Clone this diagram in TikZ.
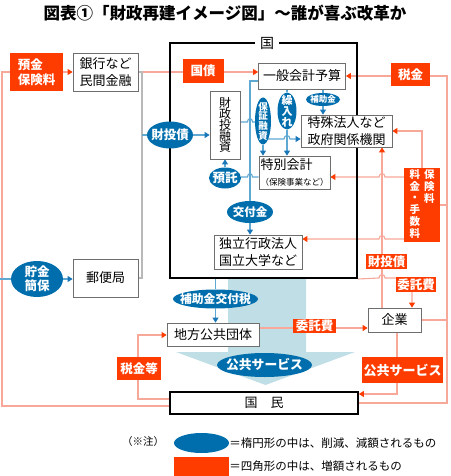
\documentclass[tikz,border=0pt]{standalone}
\usepackage{fontspec}
\setmainfont{Noto Sans CJK JP}
\usetikzlibrary{shapes.geometric,arrows.meta}
\definecolor{zored}{RGB}{255,60,0}
\definecolor{zoblue}{RGB}{0,110,172}
\definecolor{pinkline}{RGB}{248,168,152}
\definecolor{blueline}{RGB}{95,168,210}
\definecolor{bluetip}{RGB}{25,118,185}
\definecolor{bandblue}{RGB}{192,222,230}
\definecolor{boxgrey}{RGB}{110,110,110}
\definecolor{busgrey}{RGB}{185,185,185}
\newcommand{\fsz}[2]{\fontsize{#1}{#2}\selectfont}
\pgfdeclarelayer{band}
\pgfdeclarelayer{lines}
\pgfsetlayers{band,lines,main}

\begin{document}
\begin{tikzpicture}
	[x=1pt,y=-1pt,
	box/.style={draw=boxgrey,line width=0.8pt,fill=white,inner sep=0pt,align=center,font=\fsz{13}{16.5}},
	redbox/.style={fill=zored,text=white,inner sep=0pt,align=center,font=\bfseries\fsz{12.5}{15}},
	oval/.style={ellipse,fill=zoblue,inner sep=0pt},
	ovtext/.style={text=white,inner sep=0pt,align=center,font=\bfseries\fsz{12.5}{14}},
	pinkln/.style={draw=pinkline,line width=1.1pt},
	pinkar/.style={pinkln,-{Triangle[length=5pt,width=6pt,color=zored]}},
	blueln/.style={draw=blueline,line width=1.1pt},
	bluear/.style={blueln,-{Triangle[length=5pt,width=6pt,color=bluetip]}},
	greyln/.style={draw=busgrey,line width=1.4pt}]
	\useasboundingbox (0,0) rectangle (450,476);

	\node[font=\bfseries\fsz{16.5}{18}] (title) at (225,13) {図表①「財政再建イメージ図」〜誰が喜ぶ改革か};

	% 国
	\node[draw=black,line width=2pt,minimum width=187,minimum height=235,inner sep=0pt] (kuni) at (263.5,160.5) {};
	\node[fill=white,inner xsep=5pt,inner ysep=1pt,font=\fsz{14}{14}] (kunimei) at (267,43) {国};

	% left
	\node[redbox,minimum width=53,minimum height=38,align=left] (yokin) at (36.5,72) {預金\\保険料};
	\node[box,minimum width=65,minimum height=38] (ginko) at (105.5,72) {銀行など\\民間金融};
	\node[oval,minimum width=52,minimum height=36,label={[ovtext]center:{貯金\\簡保}}] (chokin) at (37,279) {};
	\node[box,minimum width=65,minimum height=38] (yubin) at (105.5,278) {郵便局};
	\coordinate (lft) at (0,279);

	% inside
	\node[redbox,minimum width=41,minimum height=24] (kokusai) at (203,71) {国債};
	\node[box,minimum width=87,minimum height=26] (ippan) at (302,76) {一般会計予算};
	\node[box,minimum width=30,minimum height=68,font=\fsz{12}{11.2}] (zaisei) at (225,125) {財\\政\\投\\融\\資};
	\node[oval,minimum width=46,minimum height=27,label={[ovtext]center:財投債}] (zaitosai) at (170,135) {};
	\node[oval,minimum width=32,minimum height=21,label={[ovtext]center:預託}] (yotaku) at (225,178) {};
	\node[oval,minimum width=16,minimum height=47,label={[ovtext,font=\bfseries\fsz{9.5}{9.7}]center:{保\\証\\融\\資}}] (hosho) at (263,121) {};
	\node[oval,minimum width=19,minimum height=37,label={[ovtext,font=\bfseries\fsz{11}{11}]center:{繰\\入\\れ}}] (kurire) at (287,111) {};
	\node[oval,minimum width=34,minimum height=13,label={[ovtext,font=\bfseries\fsz{8.5}{9}]center:補助金}] (hojo) at (323,99.5) {};
	\node[box,minimum width=91,minimum height=32] (tokushu) at (346.5,131) {特殊法人など\\政府関係機関};
	\node[box,minimum width=71,minimum height=33,align=left] (tokubetsu) at (294.5,172.5) {特別会計\\{\fsz{8.5}{10}（保険事業など）}};
	\node[oval,minimum width=46,minimum height=22,label={[ovtext,font=\bfseries\fsz{11.5}{12}]center:交付金}] (kofukin) at (250,212) {};
	\node[box,minimum width=88,minimum height=34] (dokuritsu) at (258,252) {独立行政法人\\国立大学など};

	% right
	\node[redbox,minimum width=39,minimum height=23] (zeikin) at (410.5,75) {税金};
	\node[redbox,minimum width=36,minimum height=74,font=\bfseries\fsz{10.5}{10.3}] (hoken) at (422,205)
		{\begin{tabular}[t]{@{}c@{}}料\\金\\・\\手\\数\\料\end{tabular}\hspace{4pt}\begin{tabular}[t]{@{}c@{}}保\\険\\料\end{tabular}};
	\node[redbox,minimum width=41,minimum height=15] (zaitosai2) at (386.5,261.5) {財投債};
	\node[redbox,minimum width=40,minimum height=15] (itaku1) at (416,284.5) {委託費};
	\node[box,minimum width=53,minimum height=24] (kigyo) at (394.5,320) {企業};

	% bottom
	\node[oval,minimum width=85,minimum height=19,label={[ovtext,font=\bfseries\fsz{11.8}{12}]center:補助金交付税}] (hojokofu) at (215.5,299) {};
	\node[box,minimum width=92,minimum height=23] (chiho) at (213,334.5) {地方公共団体};
	\node[redbox,minimum width=43,minimum height=14] (itaku2) at (314.5,326) {委託費};
	\node[redbox,minimum width=44,minimum height=23] (zeikinto) at (139,368.5) {税金等};
	\node[oval,minimum width=95,minimum height=24,label={[ovtext,font=\bfseries\fsz{12.8}{13}]center:公共サービス}] (kokyo) at (264.5,365) {};
	\node[redbox,minimum width=81,minimum height=26,font=\bfseries\fsz{13}{15}] (kokyo2) at (402.5,370) {公共サービス};
	\node[box,draw=black,line width=1.8pt,minimum width=188,minimum height=22] (kokumin) at (264,403) {国\quad 民};

	% legend
	\node[font=\fsz{10.5}{12}] (chu) at (143,442) {（※注）};
	\node[oval,minimum width=55,minimum height=20] (lgoval) at (201.5,443) {};
	\node[anchor=west,inner sep=0pt,font=\fsz{11.5}{13}] (lgtext1) at (lgoval.east) {＝楕円形の中は、削減、減額されるもの};
	\node[fill=zored,minimum width=55,minimum height=19,inner sep=0pt] (lgrect) at (201.5,466.5) {};
	\node[anchor=west,inner sep=0pt,font=\fsz{11.5}{13}] (lgtext2) at (lgrect.east) {＝四角形の中は、増額されるもの};

	\begin{pgfonlayer}{band}
		\fill[bandblue] (228,278) -- (306,278) -- (306,352) -- (355,352) -- (265.5,385) -- (176,352) -- (228,352) -- cycle;
	\end{pgfonlayer}

	\begin{pgfonlayer}{lines}
		% left side
		\draw[pinkar] ([yshift=-3pt]kokumin.west) -| (2,72) -- (ginko.west);
		\draw[pinkar] (ginko.east) -- (ginko.east -| ippan.west);
		\draw[greyln] (ginko.east) -| (142,278) -- (yubin.east);
		\draw[blueln] (lft) -- (chokin.west);
		\draw[bluear] (chokin.east) -- (chokin.east -| yubin.west);
		\draw[blueln] (142,135) -- (zaitosai.west);
		\draw[bluear] (zaitosai.east) -- (zaitosai.east -| zaisei.west);
		% inside
		\draw[blueln] (ippan.west |- 0,81) -| (kofukin.north);
		\draw[bluear] (kofukin.south) -- (kofukin.south |- dokuritsu.north);
		\draw[blueln] (zaisei.east |- 0,122) -- (247.5,122) .. controls (247.5,117.5) and (252.5,117.5) .. (252.5,122) -- (hosho.west |- 0,122);
		\draw[bluear] (hosho.south) -- (hosho.south |- tokubetsu.north);
		\draw[bluear] (hosho.center |- 0,139) -- (284,139) .. controls (284,134.5) and (290,134.5) .. (290,139) -- (tokushu.west |- 0,139);
		\draw[blueln] (ippan.south -| kurire) -- (kurire.north);
		\draw[bluear] (kurire.south) -- (kurire.south |- tokubetsu.north);
		\draw[blueln] (ippan.south -| hojo) -- (hojo.north);
		\draw[bluear] (hojo.south) -- (hojo.south |- tokushu.north);
		\draw[blueln] (tokubetsu.west |- 0,177) -- (252.5,177) .. controls (252.5,172.5) and (247.5,172.5) .. (247.5,177) -- (yotaku.east |- 0,177);
		\draw[bluear] (yotaku.north) -- (yotaku.north |- zaisei.south);
		\draw[blueln] (kuni.south -| hojokofu) -- (hojokofu.north);
		\draw[bluear] (hojokofu.south) -- (hojokofu.south |- chiho.north);
		% right side
		\draw[pinkar] (kokumin.east) -| (447,76) -- (ippan.east);
		\draw[pinkln] (hoken.east) -- (hoken.east -| 447,0);
		\draw[pinkln] (kigyo.east) -- (kigyo.east -| 447,0);
		\draw[pinkar] (hoken.north) |- (tokushu.east);
		\draw[pinkar] (hoken.west |- 0,177) -- (385,177) .. controls (385,172.5) and (379,172.5) .. (379,177) -- (tokubetsu.east |- 0,177);
		\draw[pinkar] (hoken.west |- 0,239) -- (385,239) .. controls (385,234.5) and (379,234.5) .. (379,239) -- (dokuritsu.east |- 0,239);
		\draw[pinkar] (kigyo.north -| 382,0) -- (tokushu.south -| 382,0);
		\draw[pinkar] (kuni.south east) -- (379,278) .. controls (379,273.5) and (385,273.5) .. (385,278) -| (kigyo.north -| 412,0);
		\draw[pinkar] (chiho.east |- 0,328) -- (kigyo.west |- 0,328);
		\draw[pinkar] (kigyo.south -| 397,0) |- (kokumin.east |- 0,394);
		\draw[pinkar] (kokumin.west |- 0,399) -| (138,335) -- (chiho.west |- 0,335);
	\end{pgfonlayer}
\end{tikzpicture}
\end{document}
